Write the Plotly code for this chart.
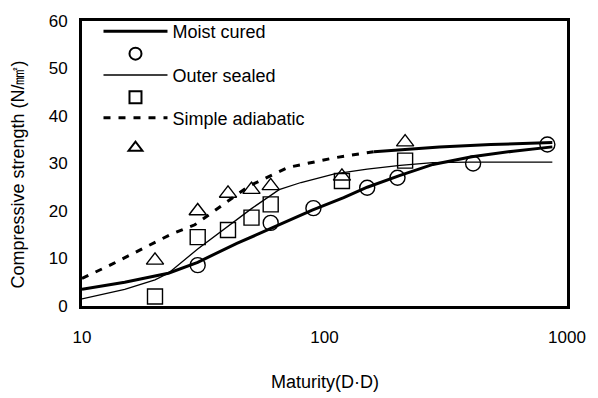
import plotly.graph_objects as go

# Curves (Maturity D·D, strength N/mm2)
moist_M = [10, 15, 20, 22.7, 30, 43.5, 52, 60, 89, 120, 150, 205, 280, 405, 600, 870]
moist_y = [3.5, 5.0, 6.3, 6.9, 9.2, 13.2, 14.9, 16.3, 20.2, 22.8, 25.0, 27.5, 29.8, 31.4, 32.6, 33.5]

sealed_M = [10, 15, 20, 22.7, 30, 43.5, 50, 65, 80, 110, 150, 205, 280, 400, 870]
sealed_y = [1.5, 3.5, 5.5, 6.9, 12.0, 18.2, 20.5, 24.5, 26.0, 27.8, 28.8, 29.6, 30.2, 30.3, 30.3]

adia_M = [10, 13.3, 18.3, 23.3, 29.2, 40, 49, 71, 110, 160]
adia_y = [5.8, 8.8, 12.4, 15.1, 17.1, 22.0, 25.3, 29.2, 31.2, 32.5]
adia2_M = [160, 205, 298, 485, 870]
adia2_y = [32.5, 32.9, 33.5, 34.0, 34.4]

# Measured points
moist_pts_M = [30, 60, 90, 150, 200, 410, 830]
moist_pts_y = [8.6, 17.5, 20.6, 24.9, 27.0, 30.0, 34.0]

sealed_pts_M = [20, 30, 40, 50, 60, 118, 215]
sealed_pts_y = [2.0, 14.5, 16.0, 18.6, 21.4, 26.3, 30.6]

adia_pts_M = [20, 30, 40, 50, 60, 118, 215]
adia_pts_y = [9.6, 20.0, 23.7, 24.5, 25.3, 27.3, 34.5]

x_ticks = [10, 100, 1000]
x_ticklabels = ["10", "100", "1000"]

FONT = "Liberation Sans, Arial, sans-serif"

fig = go.Figure()
fig.add_trace(go.Scatter(x=moist_M, y=moist_y, mode="lines", name="Moist cured",
                         line=dict(color="black", width=3), legend="legend"))
fig.add_trace(go.Scatter(x=moist_pts_M, y=moist_pts_y, mode="markers", name=" ",
                         marker=dict(symbol="circle-open", size=15, color="black",
                                     line=dict(width=1.4, color="black")), legend="legend2"))
fig.add_trace(go.Scatter(x=sealed_M, y=sealed_y, mode="lines", name="Outer sealed",
                         line=dict(color="black", width=1.3), legend="legend3"))
fig.add_trace(go.Scatter(x=sealed_pts_M, y=sealed_pts_y, mode="markers", name=" ",
                         marker=dict(symbol="square-open", size=15, color="black",
                                     line=dict(width=1.4, color="black")), legend="legend4"))
fig.add_trace(go.Scatter(x=adia_M, y=adia_y, mode="lines", name="Simple adiabatic",
                         line=dict(color="black", width=3, dash="7px,8px"), legend="legend5"))
fig.add_trace(go.Scatter(x=adia2_M, y=adia2_y, mode="lines", showlegend=False,
                         line=dict(color="black", width=3), legend="legend5"))
fig.add_trace(go.Scatter(x=adia_pts_M, y=adia_pts_y, mode="markers", name=" ",
                         marker=dict(symbol="triangle-up-open", size=15, color="black",
                                     line=dict(width=1.4, color="black")), legend="legend6"))

# legend rows (pixel y of each row centre; plot area spans 12..306 px)
row_px = [30, 53, 75, 98, 119, 150]
row_sizing = ["trace", "constant", "trace", "constant", "trace", "constant"]
row_shift = -7
legends = {}
for i, px in enumerate(row_px):
    key = "legend" if i == 0 else f"legend{i + 1}"
    legends[key] = dict(x=0.034, y=(306 - (px + row_shift)) / 294, xanchor="left",
                        yanchor="middle", bgcolor="rgba(0,0,0,0)", itemwidth=64,
                        itemsizing=row_sizing[i], font=dict(size=18), borderwidth=0)

fig.update_layout(
    width=598, height=398,
    margin=dict(l=82, r=21, t=12, b=92),
    paper_bgcolor="white", plot_bgcolor="white",
    font=dict(family=FONT, size=18, color="black"),
    showlegend=True,
    annotations=[
        dict(text="Maturity(D·D)", xref="paper", yref="paper", x=0.501, y=-0.266,
             xanchor="center", yanchor="middle", showarrow=False, font=dict(size=18)),
        dict(text="Compressive strength (N/㎟)", xref="paper", yref="paper",
             x=-0.131, y=0.4626, xanchor="center", yanchor="middle", textangle=-90,
             showarrow=False, font=dict(size=18)),
    ],
    **legends,
)
fig.update_xaxes(type="log", range=[1, 3], tickvals=x_ticks, ticktext=x_ticklabels,
                 showgrid=False, zeroline=False, showline=True, linewidth=3, linecolor="black",
                 mirror=True, ticks="", ticklabelstandoff=14, tickfont=dict(size=17))
fig.update_yaxes(range=[0, 60], dtick=10, showgrid=False, zeroline=False, showline=True,
                 linewidth=3, linecolor="black", mirror=True, ticks="",
                 ticklabelstandoff=8, tickfont=dict(size=17))

fig.write_html("out.html")
